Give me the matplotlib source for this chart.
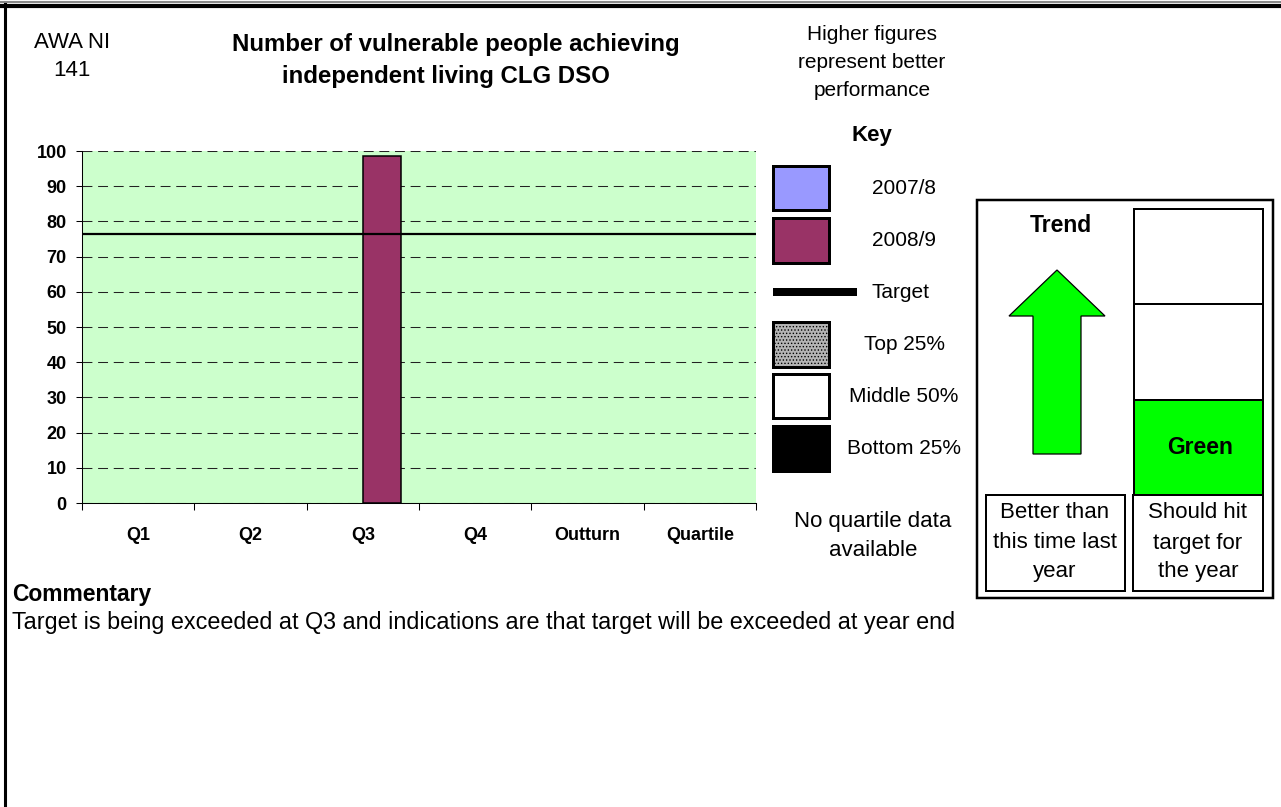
import numpy as np
import matplotlib.pyplot as plt
from matplotlib.patches import Rectangle, Polygon

plt.rcParams['font.family'] = ['Liberation Sans', 'DejaVu Sans']
plt.rcParams['hatch.linewidth'] = 0.6

categories = ['Q1', 'Q2', 'Q3', 'Q4', 'Outturn', 'Quartile']
values_2007 = [np.nan, np.nan, np.nan, np.nan, np.nan, np.nan]
values_2008 = [np.nan, np.nan, 98.5, np.nan, np.nan, np.nan]
target = 76.5
y_ticks = list(range(0, 101, 10))

W, H = 1281, 807
fig = plt.figure(figsize=(W / 100, H / 100), dpi=100)

# page layer in pixel coordinates (y down)
page = fig.add_axes([0, 0, 1, 1])
page.set_xlim(0, W)
page.set_ylim(H, 0)
page.axis('off')


def box(x0, y0, x1, y1, fc='white', lw=2, **kw):
    page.add_patch(Rectangle((x0, y0), x1 - x0, y1 - y0, facecolor=fc,
                             edgecolor='black', linewidth=lw * 0.72, **kw))


def text(x, y, s, size, bold=False, ha='center'):
    page.text(x, y, s, fontsize=size, fontweight='bold' if bold else 'normal',
              ha=ha, va='center', color='black')


def lines(x, ys, strings, size, bold=False):
    for y, s in zip(ys, strings):
        text(x, y, s, size, bold)


# sheet frame
page.plot([0, W], [1.5, 1.5], color='#888888', lw=1.5)
page.plot([0, W], [6, 6], color='black', lw=3)
page.plot([5, 5], [4, H], color='black', lw=2.2)

# headings
lines(72, [43, 71], ['AWA NI', '141'], 16)
text(456, 45, 'Number of vulnerable people achieving', 17.3, bold=True)
text(446, 76, 'independent living CLG DSO', 17.3, bold=True)
lines(872, [35, 63, 91], ['Higher figures', 'represent better', 'performance'], 15)

# key
text(872, 135, 'Key', 16, bold=True)
box(773, 166, 829, 210, fc='#9999FF', lw=3)
box(773, 218, 829, 263, fc='#993366', lw=3)
page.plot([773, 857], [292, 292], color='black', lw=8 * 0.72, solid_capstyle='butt')
box(773, 322, 829, 367, fc='#b4b4b4', lw=3, hatch='.....')
box(773, 374, 829, 418, lw=3)
box(773, 426, 829, 471, fc='black', lw=3)
text(904, 188, '2007/8', 15)
text(904, 240, '2008/9', 15)
text(900, 292, 'Target', 15)
text(904, 344, 'Top 25%', 15)
text(904, 396, 'Middle 50%', 15)
text(904, 448, 'Bottom 25%', 15)
lines(873, [522, 550], ['No quartile data', 'available'], 16)

# trend / RAG panel
box(977, 200, 1273, 598, lw=2.5)
box(1134, 209, 1263, 304, lw=2)
box(1134, 304, 1263, 400, lw=2)
box(1134, 400, 1263, 495, fc='#00FF00', lw=2)
box(986, 495, 1125, 591, lw=2)
box(1133, 495, 1263, 591, lw=2)
page.add_patch(Polygon([(1057, 270), (1105, 316), (1081, 316), (1081, 454),
                        (1033, 454), (1033, 316), (1009, 316)],
                       closed=True, facecolor='#00FF00', edgecolor='black', lw=0.9))
text(1061, 226, 'Trend', 16.5, bold=True)
text(1200, 448, 'Green', 16.5, bold=True)
lines(1055, [513, 543, 572], ['Better than', 'this time last', 'year'], 16)
lines(1198, [513, 543, 572], ['Should hit', 'target for', 'the year'], 16)

# commentary
text(12, 595, 'Commentary', 16.5, bold=True, ha='left')
text(12, 623, 'Target is being exceeded at Q3 and indications are that target will be exceeded at year end',
     16.8, ha='left')

# chart
ax = fig.add_axes([82 / W, 1 - 503 / H, 674 / W, 352 / H])
ax.set_facecolor('#CCFFCC')
x = np.arange(len(categories))
w = 0.34
ax.bar(x - w / 2, values_2007, w, color='#9999FF', edgecolor='black', lw=1.1, zorder=3)
ax.bar(x + w / 2, values_2008, w, color='#993366', edgecolor='black', lw=1.1, zorder=3)
ax.axhline(target, color='black', lw=1.6, zorder=4)
ax.set_xlim(-0.5, len(categories) - 0.5)
ax.set_ylim(0, 100)
ax.set_yticks(y_ticks)
ax.set_yticklabels([str(v) for v in y_ticks], fontweight='bold', fontsize=13)
ax.yaxis.grid(True, color='#222222', lw=0.75, linestyle=(0, (9.5, 5.5)), zorder=1)
ax.set_axisbelow(True)
for side in ['top', 'right']:
    ax.spines[side].set_visible(False)
for side in ['left', 'bottom']:
    ax.spines[side].set_linewidth(0.75)
ax.set_xticks(np.arange(-0.5, len(categories), 1))
ax.set_xticklabels([])
ax.set_xticks(x, minor=True)
ax.set_xticklabels(categories, minor=True, fontweight='bold', fontsize=13)
ax.tick_params(axis='x', which='major', length=5, width=0.75)
ax.tick_params(axis='x', which='minor', length=0, pad=17)
ax.tick_params(axis='y', length=4, width=0.75, pad=7)

fig.savefig('out.png', dpi=100)
